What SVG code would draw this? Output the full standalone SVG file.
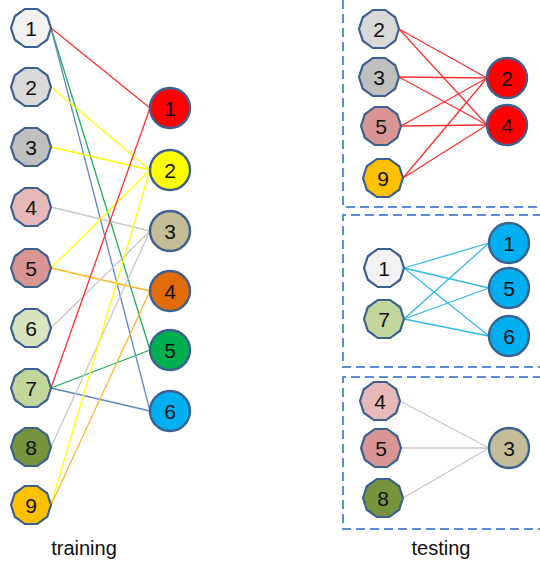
<svg xmlns="http://www.w3.org/2000/svg" xmlns:xlink="http://www.w3.org/1999/xlink" width="540" height="567" viewBox="0 0 540 567">
  <style>
    .deca { stroke: #3C6190; stroke-width: 2.2; }
    .circ { stroke: #3C6190; stroke-width: 2.4; }
    .num { font-family: "Liberation Sans", Arial, sans-serif; font-size: 21px; fill: #111; text-anchor: middle; }
    .cap { font-family: "Liberation Sans", Arial, sans-serif; font-size: 20px; fill: #111; text-anchor: middle; }
    .box { fill: none; stroke: #5B8FD5; stroke-width: 2; stroke-dasharray: 9 5; }
    line { stroke-width: 1.3; }
    .red { stroke: #FF3030; }
    .yel { stroke: #FFFF00; }
    .gry { stroke: #C8C8C8; }
    .org { stroke: #FFB52A; }
    .grn { stroke: #1DAF5A; }
    .blu { stroke: #5E88C4; }
    .cyn { stroke: #2FBAEA; }
    .f1 { fill: #F2F2F2; } .f2 { fill: #D9D9D9; } .f3 { fill: #BFBFBF; }
    .f4 { fill: #E6B9B8; } .f5 { fill: #D99594; } .f6 { fill: #D7E4BD; }
    .f7 { fill: #C3D69B; } .f8 { fill: #77933C; } .f9 { fill: #FFC000; }
    .c1 { fill: #FF0000; } .c2 { fill: #FFFF00; } .c3 { fill: #C4BD97; }
    .c4 { fill: #E36C09; } .c5 { fill: #00B050; } .c6 { fill: #00B0F0; }
  </style>
  <defs>
    <polygon id="deca" points="20,0 16.18,11.76 6.18,19.02 -6.18,19.02 -16.18,11.76 -20,0 -16.18,-11.76 -6.18,-19.02 6.18,-19.02 16.18,-11.76"/>
  </defs>

  <!-- dashed panels on the right -->
  <g id="panels">
    <path class="box" d="M343,0 V207 H542"/>
    <path class="box" d="M542,215 H343 V367 H542"/>
    <path class="box" d="M542,377 H343 V529 H542"/>
  </g>

  <!-- connectors -->
  <g id="connectors">
    <!-- training -->
    <line class="red" x1="51" y1="28" x2="150" y2="108"/>
    <line class="grn" x1="51" y1="28" x2="150" y2="350"/>
    <line class="blu" x1="51" y1="28" x2="150" y2="411"/>
    <line class="yel" x1="51" y1="87" x2="150" y2="170"/>
    <line class="yel" x1="51" y1="147" x2="150" y2="170"/>
    <line class="gry" x1="51" y1="207" x2="150" y2="231"/>
    <line class="yel" x1="51" y1="268" x2="150" y2="170"/>
    <line class="org" x1="51" y1="268" x2="150" y2="291"/>
    <line class="gry" x1="51" y1="328" x2="150" y2="231"/>
    <line class="red" x1="51" y1="388" x2="150" y2="108"/>
    <line class="grn" x1="51" y1="388" x2="150" y2="350"/>
    <line class="blu" x1="51" y1="388" x2="150" y2="411"/>
    <line class="gry" x1="51" y1="447" x2="150" y2="231"/>
    <line class="yel" x1="51" y1="505" x2="150" y2="170"/>
    <line class="org" x1="51" y1="505" x2="150" y2="291"/>
    <!-- testing panel 1 -->
    <line class="red" x1="399" y1="29" x2="487" y2="78"/>
    <line class="red" x1="399" y1="29" x2="487" y2="125"/>
    <line class="red" x1="399" y1="77" x2="487" y2="78"/>
    <line class="red" x1="399" y1="77" x2="487" y2="125"/>
    <line class="red" x1="401" y1="126" x2="487" y2="78"/>
    <line class="red" x1="401" y1="126" x2="487" y2="125"/>
    <line class="red" x1="403" y1="178" x2="487" y2="78"/>
    <line class="red" x1="403" y1="178" x2="487" y2="125"/>
    <!-- testing panel 2 -->
    <line class="cyn" x1="404" y1="268" x2="489" y2="243"/>
    <line class="cyn" x1="404" y1="268" x2="489" y2="288"/>
    <line class="cyn" x1="404" y1="268" x2="489" y2="336"/>
    <line class="cyn" x1="404" y1="319" x2="489" y2="243"/>
    <line class="cyn" x1="404" y1="319" x2="489" y2="288"/>
    <line class="cyn" x1="404" y1="319" x2="489" y2="336"/>
    <!-- testing panel 3 -->
    <line class="gry" x1="400" y1="401" x2="489" y2="448"/>
    <line class="gry" x1="401" y1="448" x2="489" y2="448"/>
    <line class="gry" x1="403" y1="498" x2="489" y2="448"/>
  </g>

  <!-- training: left column -->
  <g id="L1"><use xlink:href="#deca" class="deca f1" x="31" y="28"/><text class="num" x="31" y="36">1</text></g>
  <g id="L2"><use xlink:href="#deca" class="deca f2" x="31" y="87"/><text class="num" x="31" y="95">2</text></g>
  <g id="L3"><use xlink:href="#deca" class="deca f3" x="31" y="147"/><text class="num" x="31" y="155">3</text></g>
  <g id="L4"><use xlink:href="#deca" class="deca f4" x="31" y="207"/><text class="num" x="31" y="215">4</text></g>
  <g id="L5"><use xlink:href="#deca" class="deca f5" x="31" y="268"/><text class="num" x="31" y="276">5</text></g>
  <g id="L6"><use xlink:href="#deca" class="deca f6" x="31" y="328"/><text class="num" x="31" y="336">6</text></g>
  <g id="L7"><use xlink:href="#deca" class="deca f7" x="31" y="388"/><text class="num" x="31" y="396">7</text></g>
  <g id="L8"><use xlink:href="#deca" class="deca f8" x="31" y="447"/><text class="num" x="31" y="455">8</text></g>
  <g id="L9"><use xlink:href="#deca" class="deca f9" x="31" y="505"/><text class="num" x="31" y="513">9</text></g>

  <!-- training: right column -->
  <g id="R1"><circle class="circ c1" cx="170" cy="108" r="20"/><text class="num" x="170" y="116">1</text></g>
  <g id="R2"><circle class="circ c2" cx="170" cy="170" r="20"/><text class="num" x="170" y="178">2</text></g>
  <g id="R3"><circle class="circ c3" cx="170" cy="231" r="20"/><text class="num" x="170" y="239">3</text></g>
  <g id="R4"><circle class="circ c4" cx="170" cy="291" r="20"/><text class="num" x="170" y="299">4</text></g>
  <g id="R5"><circle class="circ c5" cx="170" cy="350" r="20"/><text class="num" x="170" y="358">5</text></g>
  <g id="R6"><circle class="circ c6" cx="170" cy="411" r="20"/><text class="num" x="170" y="419">6</text></g>

  <!-- testing panel 1 -->
  <g id="T1L2"><use xlink:href="#deca" class="deca f2" x="379" y="29"/><text class="num" x="379" y="37">2</text></g>
  <g id="T1L3"><use xlink:href="#deca" class="deca f3" x="379" y="77"/><text class="num" x="379" y="85">3</text></g>
  <g id="T1L5"><use xlink:href="#deca" class="deca f5" x="381" y="126"/><text class="num" x="381" y="134">5</text></g>
  <g id="T1L9"><use xlink:href="#deca" class="deca f9" x="383" y="178"/><text class="num" x="383" y="186">9</text></g>
  <g id="T1R2"><circle class="circ c1" cx="507" cy="78" r="20"/><text class="num" x="507" y="86">2</text></g>
  <g id="T1R4"><circle class="circ c1" cx="507" cy="125" r="20"/><text class="num" x="507" y="133">4</text></g>

  <!-- testing panel 2 -->
  <g id="T2L1"><use xlink:href="#deca" class="deca f1" x="384" y="268"/><text class="num" x="384" y="276">1</text></g>
  <g id="T2L7"><use xlink:href="#deca" class="deca f7" x="384" y="319"/><text class="num" x="384" y="327">7</text></g>
  <g id="T2R1"><circle class="circ c6" cx="509" cy="243" r="20"/><text class="num" x="509" y="251">1</text></g>
  <g id="T2R5"><circle class="circ c6" cx="509" cy="288" r="20"/><text class="num" x="509" y="296">5</text></g>
  <g id="T2R6"><circle class="circ c6" cx="509" cy="336" r="20"/><text class="num" x="509" y="344">6</text></g>

  <!-- testing panel 3 -->
  <g id="T3L4"><use xlink:href="#deca" class="deca f4" x="380" y="401"/><text class="num" x="380" y="409">4</text></g>
  <g id="T3L5"><use xlink:href="#deca" class="deca f5" x="381" y="448"/><text class="num" x="381" y="456">5</text></g>
  <g id="T3L8"><use xlink:href="#deca" class="deca f8" x="383" y="498"/><text class="num" x="383" y="506">8</text></g>
  <g id="T3R3"><circle class="circ c3" cx="509" cy="448" r="20"/><text class="num" x="509" y="456">3</text></g>

  <!-- captions -->
  <text class="cap" x="84" y="555">training</text>
  <text class="cap" x="441" y="555">testing</text>
</svg>
